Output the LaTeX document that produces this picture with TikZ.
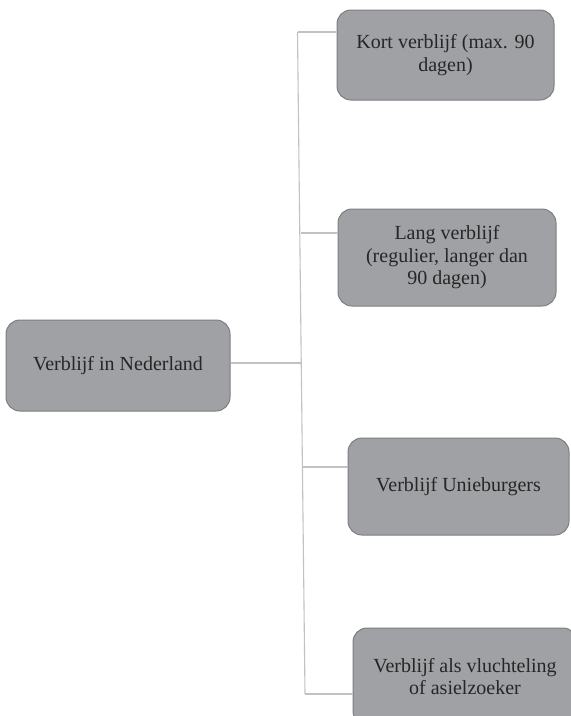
\documentclass[tikz,border=0pt]{standalone}
\usepackage{fontspec}
\setmainfont{Liberation Serif}
\usepackage{tikz}
\definecolor{boxfill}{HTML}{A0A1A4}
\definecolor{boxline}{HTML}{7D7E81}
\definecolor{ink}{HTML}{262626}
\definecolor{link}{HTML}{C2C2C2}
\tikzset{
  verblijfBox/.style={draw=boxline, fill=boxfill, rounded corners=14pt, line width=1pt,
    text=ink, align=center, inner sep=0pt, font=\fontsize{20}{22.5}\selectfont},
  treeLink/.style={draw=link, line width=1.1pt},
}

\begin{document}
\begin{tikzpicture}[x=1pt, y=-1pt]
  \useasboundingbox (0,0) rectangle (571,716);
  \clip (0,0) rectangle (571,716);

  \node[verblijfBox, minimum width=224pt, minimum height=91pt] (root) at (118,365.5) {Verblijf in Nederland};

  \node[verblijfBox, minimum width=217pt, minimum height=90pt] (kort) at (445.5,55) {Kort verblijf (max. 90\\dagen)};
  \node[verblijfBox, minimum width=218pt, minimum height=97pt] (lang) at (447,257.5) {Lang verblijf\\(regulier, langer dan\\90 dagen)};
  \node[verblijfBox, minimum width=221pt, minimum height=97pt] (unie) at (458.5,486.5) {Verblijf Unieburgers};
  \node[verblijfBox, minimum width=224pt, minimum height=97pt] (asiel) at (465,676.5) {Verblijf als vluchteling\\of asielzoeker};

  % trunk
  \coordinate (t1) at (297.5,32);
  \coordinate (t2) at (300.5,233);
  \coordinate (t3) at (303,467);
  \coordinate (t4) at (305,694);
  \coordinate (t0) at (302,363);
  \draw[treeLink] (t1) -- (t4);

  \draw[treeLink] (root.east |- t0) -- (t0);
  \draw[treeLink] (t1) -- (t1 -| kort.west);
  \draw[treeLink] (t2) -- (t2 -| lang.west);
  \draw[treeLink] (t3) -- (t3 -| unie.west);
  \draw[treeLink] (t4) -- (t4 -| asiel.west);
\end{tikzpicture}
\end{document}
